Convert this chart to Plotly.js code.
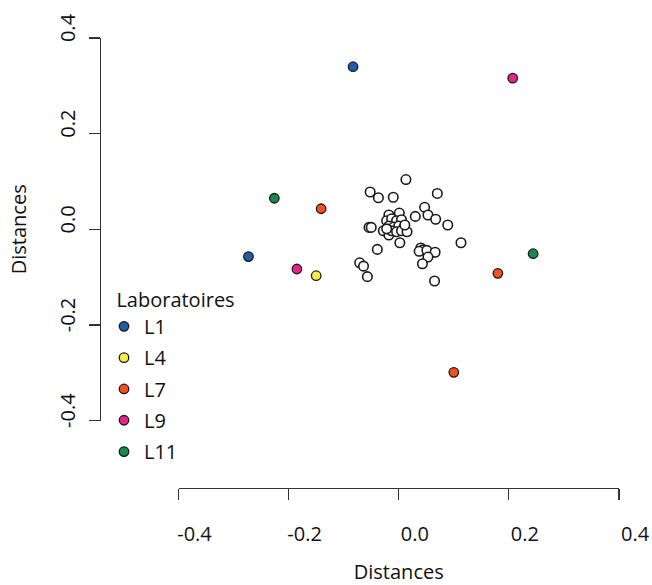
<!DOCTYPE html>
<html>
<head>
<meta charset="utf-8">
<script src="https://cdn.plot.ly/plotly-3.0.1.min.js"></script>
<style>html,body{margin:0;padding:0;background:#fff;}</style>
</head>
<body>
<div id="chart" style="width:652px;height:585px;"></div>
<script>
// Other laboratories (open circles)
const otherX = [0.013,-0.052,-0.037,-0.010,0.070,0.047,0.053,0.067,0.089,0.030,0.001,-0.018,0.113,-0.054,-0.050,-0.028,-0.018,0.002,-0.039,-0.071,-0.064,-0.057,0.040,0.044,0.037,0.051,0.066,0.053,0.043,0.065,
  -0.022,-0.013,-0.004,0.005,-0.018,-0.009,0.000,0.009,-0.013,-0.004,0.005,0.015,-0.022,0.011];
const otherY = [0.104,0.078,0.066,0.067,0.075,0.046,0.030,0.021,0.009,0.027,0.034,0.030,-0.028,0.004,0.004,-0.003,-0.012,-0.028,-0.042,-0.070,-0.077,-0.099,-0.039,-0.043,-0.046,-0.044,-0.048,-0.058,-0.072,-0.108,
  0.018,0.022,0.018,0.020,0.007,0.005,0.007,0.003,-0.003,-0.005,-0.003,-0.005,0.001,0.009];

// Highlighted laboratories
const labNames = ["L1","L4","L7","L9","L11"];
const labColors = ["#1d5ea8","#f4ec4a","#f34f1f","#e6238c","#168a4a"];
const L1x = [-0.083,-0.273];  const L1y = [0.340,-0.057];
const L4x = [-0.150];         const L4y = [-0.097];
const L7x = [-0.141,0.180,0.100]; const L7y = [0.043,-0.092,-0.299];
const L9x = [0.207,-0.185];   const L9y = [0.316,-0.083];
const L11x = [-0.226,0.244];  const L11y = [0.065,-0.051];
const labX = [L1x,L4x,L7x,L9x,L11x];
const labY = [L1y,L4y,L7y,L9y,L11y];

const tickVals = [-0.4,-0.2,0.0,0.2,0.4];
const tickText = ["-0.4","-0.2","0.0","0.2","0.4"];

const FONT = "Open Sans, sans-serif";

const traces = [{
  x: otherX, y: otherY, type: "scatter", mode: "markers",
  showlegend: false, hoverinfo: "skip",
  marker: {size: 9.5, color: "#ffffff", line: {color: "#1a1a1a", width: 1.6}}
}];
labNames.forEach((n,i) => {
  traces.push({
    x: labX[i], y: labY[i], type: "scatter", mode: "markers",
    name: n, legendgroup: n,
    marker: {size: 9.5, color: labColors[i], line: {color: "#1a1a1a", width: 1.3}}
  });
});

const axisCommon = {
  range: [-0.4,0.4], tickvals: tickVals, ticktext: tickText,
  showgrid: false, zeroline: false, showline: true,
  linecolor: "#333", linewidth: 1.2,
  ticks: "outside", ticklen: 11, tickwidth: 1.2, tickcolor: "#333",
  tickfont: {family: FONT, size: 20, color: "#111"},
  anchor: "free", position: 0, automargin: false
};

// plot area (paper) spans x 100..619.4 px, y 38.3..488 px
const PL = 100, PW = 519.4, PT = 38.3, PH = 449.7;

const layout = {
  width: 652, height: 585,
  margin: {l: PL, r: 652 - PL - PW, t: PT, b: 585 - PT - PH, pad: 0},
  paper_bgcolor: "#fff", plot_bgcolor: "#fff",
  font: {family: FONT, size: 20, color: "#111"},
  xaxis: Object.assign({}, axisCommon, {
    domain: [0.1513, 1],
    ticklabelstandoff: 17,
    ticklabelshift: 16,
    title: {text: "Distances", font: {family: FONT, size: 20, color: "#111"}, standoff: 19}
  }),
  yaxis: Object.assign({}, axisCommon, {
    domain: [0.1497, 1],
    tickangle: -90,
    ticklabelstandoff: 6,
    ticklabelshift: -7,
    title: {text: "Distances", font: {family: FONT, size: 20, color: "#111"}, standoff: 20}
  }),
  legend: {
    x: (104 - PL) / PW, y: 1 - (281 - PT) / PH, xanchor: "left", yanchor: "top",
    bgcolor: "rgba(0,0,0,0)", borderwidth: 0,
    font: {family: FONT, size: 20, color: "#111"},
    title: {text: "\u00a0\u00a0Laboratoires", font: {family: FONT, size: 20, color: "#111"}},
    tracegroupgap: 2.3,
    itemclick: false, itemdoubleclick: false
  },
  showlegend: true
};

Plotly.newPlot("chart", traces, layout, {displayModeBar: false, staticPlot: true});
</script>
</body>
</html>
